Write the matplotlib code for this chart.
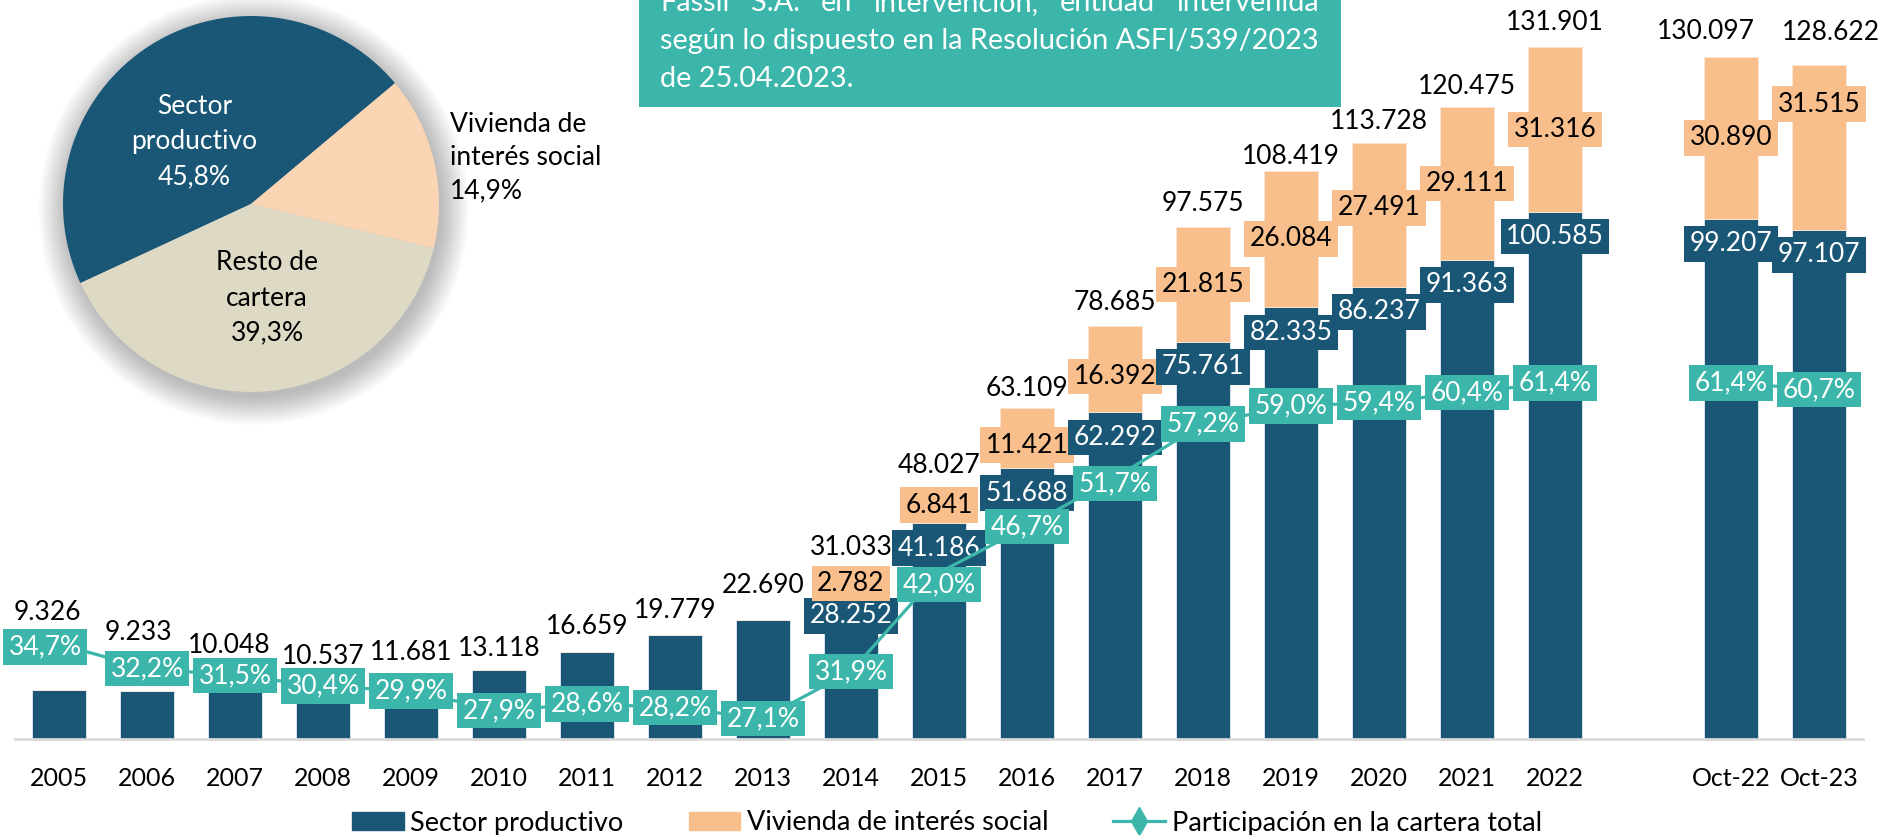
import matplotlib
matplotlib.use('Agg')
import matplotlib.pyplot as plt
from matplotlib.patches import Patch, Rectangle, Circle
from matplotlib.lines import Line2D
import numpy as np

plt.rcParams['font.family'] = ['Lato', 'DejaVu Sans']

# ── datos ───────────────────────────────────────────────────────────────────
periodos = ['2005', '2006', '2007', '2008', '2009', '2010', '2011', '2012',
            '2013', '2014', '2015', '2016', '2017', '2018', '2019', '2020',
            '2021', '2022', 'Oct-22', 'Oct-23']
sector_productivo = [9326, 9233, 10048, 10537, 11681, 13118, 16659, 19779,
                     22690, 28252, 41186, 51688, 62292, 75761, 82335, 86237,
                     91363, 100585, 99207, 97107]
vivienda_social = [np.nan] * 9 + [2782, 6841, 11421, 16392, 21815, 26084,
                                  27491, 29111, 31316, 30890, 31515]
cartera_total = [9326, 9233, 10048, 10537, 11681, 13118, 16659, 19779, 22690,
                 31033, 48027, 63109, 78685, 97575, 108419, 113728, 120475,
                 131901, 130097, 128622]
participacion = [34.7, 32.2, 31.5, 30.4, 29.9, 27.9, 28.6, 28.2, 27.1, 31.9,
                 42.0, 46.7, 51.7, 57.2, 59.0, 59.4, 60.4, 61.4, 61.4, 60.7]

pie_labels = ['Sector\nproductivo', 'Resto de\ncartera', 'Vivienda de\ninterés social']
pie_shares = [45.8, 39.3, 14.9]

# ── estilo ──────────────────────────────────────────────────────────────────
DARK = '#1A5776'
PEACH = '#F8BF8D'
PEACH_LIGHT = '#FAD5B4'
BEIGE = '#DDD9C4'
TEAL = '#3CB6AA'
FS = 18        # ejes
FSV = 19       # etiquetas de datos

# posiciones: hueco entre 2022 y Oct-22
slots = list(range(18)) + [19, 20]

# ajustes manuales de etiquetas (pixeles)
tot_dy = [78, 58, 41, 27, 25, 22, 25, 25, 35, 29, 22, 20, 24, 24, 14, 21, 21, 25, 25, 32]
tot_dx = [-12, -9, -6] + [0] * 15 + [-25, 12]
viv_dy = [0] * 9 + [0, 0, -7, -7, 0, 0, 7, 0, 0, 0, 43]
pct_dy = [-3] + [0] * 9 + [-12, 0, -6] + [0] * 7
pct_dx = [-14] + [0] * 19

W, H = 1880, 835
fig = plt.figure(figsize=(W / 100, H / 100), dpi=100)


def fx(px):
    return px / W


def fy(py):
    return 1 - py / H


def fmt_num(v):
    return f'{v:,.0f}'.replace(',', '.')


def fmt_pct(p):
    return f'{p:.1f}'.replace('.', ',') + '%'


# ── barras ──────────────────────────────────────────────────────────────────
ax = fig.add_axes([fx(15), fy(739), fx(1863) - fx(15), fy(5) - fy(739)])
ax.patch.set_visible(False)
viv = np.nan_to_num(np.array(vivienda_social, dtype=float))
ax.bar(slots, sector_productivo, 0.62, color=DARK, edgecolor='#E4EBF0', linewidth=0.6)
ax.bar(slots, viv, 0.62, bottom=sector_productivo, color=PEACH,
       edgecolor='#FBE6D4', linewidth=0.6)
ax.set_xlim(-0.5, 20.5)
ax.set_ylim(0, 140000)

for i, x in enumerate(slots):
    ax.annotate(fmt_num(cartera_total[i]), xy=(x, cartera_total[i]),
                xytext=(tot_dx[i], tot_dy[i]), textcoords='offset pixels',
                ha='center', va='center', fontsize=FSV, color='black',
                annotation_clip=False)
    if not np.isnan(vivienda_social[i]):
        ax.annotate(fmt_num(sector_productivo[i]), xy=(x, sector_productivo[i]),
                    xytext=(0, -25), textcoords='offset pixels',
                    ha='center', va='center', fontsize=FSV, color='white',
                    bbox=dict(boxstyle='square,pad=0.2', fc=DARK, ec='none'))
        ax.annotate(fmt_num(vivienda_social[i]),
                    xy=(x, sector_productivo[i] + vivienda_social[i] / 2),
                    xytext=(0, viv_dy[i]), textcoords='offset pixels',
                    ha='center', va='center', fontsize=FSV, color='black',
                    bbox=dict(boxstyle='square,pad=0.2', fc=PEACH, ec='none'))

ax.set_xticks(slots)
ax.set_xticklabels(periodos)
ax.tick_params(axis='x', length=0, pad=20, labelsize=FS)
ax.set_yticks([])
for s in ['top', 'left', 'right']:
    ax.spines[s].set_visible(False)
ax.spines['bottom'].set_color('#D9D9D9')
ax.spines['bottom'].set_linewidth(2)

# ── participación ───────────────────────────────────────────────────────────
ax2 = ax.twinx()
ax2.patch.set_visible(False)
ax2.set_ylim(25, 100)
ax2.set_yticks([])
for s in ax2.spines.values():
    s.set_visible(False)
ax2.plot(slots[:18], participacion[:18], color=TEAL, lw=2.3)
ax2.plot(slots[18:], participacion[18:], color=TEAL, lw=2.3)
for i, x in enumerate(slots):
    ax2.annotate(fmt_pct(participacion[i]), xy=(x, participacion[i]),
                 xytext=(pct_dx[i], pct_dy[i]), textcoords='offset pixels',
                 ha='center', va='center', fontsize=FSV, color='white',
                 bbox=dict(boxstyle='square,pad=0.2', fc=TEAL, ec='none'),
                 annotation_clip=False)

# ── torta ───────────────────────────────────────────────────────────────────
pax = fig.add_axes([fx(63), fy(392), 376 / W, 376 / H])
for k in range(14):
    pax.add_patch(Circle((0.015, -0.03), 1 + 0.011 * k, fc='black', ec='none',
                         alpha=0.02, zorder=0, clip_on=False))
pax.pie(pie_shares, colors=[DARK, BEIGE, PEACH_LIGHT], startangle=40,
        counterclock=True, radius=1, wedgeprops=dict(linewidth=0))
pax.set_xlim(-1, 1)
pax.set_ylim(-1, 1)
pax.axis('off')
pax.text(-0.30, 0.33, f'{pie_labels[0]}\n45,8%', color='white', ha='center',
         va='center', fontsize=FSV, linespacing=1.5)
pax.text(0.085, -0.50, f'{pie_labels[1]}\n39,3%', color='black', ha='center',
         va='center', fontsize=FSV, linespacing=1.5)
pax.text(1.06, 0.245, f'{pie_labels[2]}\n14,9%', color='black', ha='left',
         va='center', fontsize=FSV, linespacing=1.4, clip_on=False)

# ── recuadro de nota ────────────────────────────────────────────────────────
fig.add_artist(Rectangle((fx(639), fy(107)), 702 / W, 107 / H + 0.02,
                         transform=fig.transFigure, fc=TEAL, ec='none', zorder=5))
box_lines = ['Fassil S.A. en intervención, entidad intervenida',
             'según lo dispuesto en la Resolución ASFI/539/2023',
             'de 25.04.2023.']
renderer = fig.canvas.get_renderer()
probe = fig.text(0, 0, box_lines[1], fontsize=20)
bfs = 20 * 659 / probe.get_window_extent(renderer).width
probe.remove()

x0, line_w = 660, 659
words = box_lines[0].split()
widths = []
for wd in words:
    t = fig.text(0, 0, wd, fontsize=bfs)
    widths.append(t.get_window_extent(renderer).width)
    t.remove()
gap = (line_w - sum(widths)) / (len(words) - 1)
xp = x0
for wd, wdt in zip(words, widths):
    fig.text(fx(xp), fy(11), wd, fontsize=bfs, color='white', va='baseline', zorder=6)
    xp += wdt + gap
fig.text(fx(x0), fy(49), box_lines[1], fontsize=bfs, color='white', va='baseline', zorder=6)
fig.text(fx(x0), fy(87), box_lines[2], fontsize=bfs, color='white', va='baseline', zorder=6)

# ── leyenda ─────────────────────────────────────────────────────────────────
handles = [Patch(color=DARK), Patch(color=PEACH),
           Line2D([], [], color=TEAL, lw=2.3, marker='d', markersize=14)]
labels = ['Sector productivo', 'Vivienda de interés social',
          'Participación en la cartera total']
fig.legend(handles, labels, loc='center', bbox_to_anchor=(fx(947), fy(823)),
           ncol=3, frameon=False, fontsize=19.5, handlelength=1.9,
           handleheight=0.6, handletextpad=0.25, columnspacing=2.4)

fig.savefig('out.png', dpi=100)
